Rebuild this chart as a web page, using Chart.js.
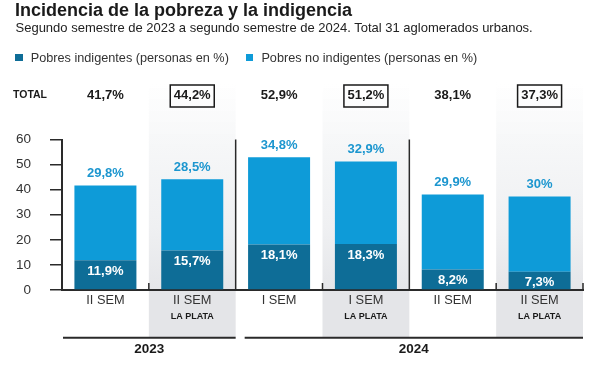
<!DOCTYPE html>
<html><head><meta charset="utf-8">
<script src="https://cdn.jsdelivr.net/npm/chart.js@4/dist/chart.umd.min.js"></script>
<style>
html,body{margin:0;padding:0;background:#fff;}
#wrap{position:relative;width:600px;height:365px;overflow:hidden;font-family:'Liberation Sans',Arial,sans-serif;}
canvas{position:absolute;left:0;top:0;}
.t{position:absolute;white-space:nowrap;line-height:1;color:#1a1a1a;}
#title{left:15px;top:0.5px;font-size:18px;font-weight:bold;}
#sub{left:15.5px;top:20.7px;font-size:13px;color:#222;}
.lg{position:absolute;top:51.5px;font-size:12.7px;color:#333;line-height:1;white-space:nowrap;}
.sw{position:absolute;width:7.5px;height:7.5px;top:53.5px;}
</style></head>
<body><div id="wrap">
<canvas id="c" width="600" height="365"></canvas>
<div class="t" id="title">Incidencia de la pobreza y la indigencia</div>
<div class="t" id="sub">Segundo semestre de 2023 a segundo semestre de 2024. Total 31 aglomerados urbanos.</div>
<div id="legend"></div>
</div>
<script>
// ---- data ----
const categories = ['II SEM', 'II SEM', 'I SEM', 'I SEM', 'II SEM', 'II SEM'];
const subLabels = ['', 'LA PLATA', '', 'LA PLATA', '', 'LA PLATA'];
const indigentes = [11.9, 15.7, 18.1, 18.3, 8.2, 7.3];
const noIndigentes = [29.8, 28.5, 34.8, 32.9, 29.9, 30];
const totals = [41.7, 44.2, 52.9, 51.2, 38.1, 37.3];
const years = ['2023', '2024'];
const yearSpans = [[0, 1], [2, 5]];
const yTicks = [0, 10, 20, 30, 40, 50, 60];
const seriesNames = ['Pobres indigentes (personas en %)', 'Pobres no indigentes (personas en %)'];
const totalLabel = 'TOTAL';

// ---- styles ----
const FAM = "'Liberation Sans', Arial, sans-serif";
const DARK = '#0e6d97';
const LIGHT = '#0e9bd8';
const INK = '#2a2a2a';
const fmt = v => String(v).replace('.', ',') + '%';

const decor = {
  id: 'decor',
  beforeDraw(chart) {
    const {ctx, chartArea: ca, scales: {x}} = chart;
    const half = (x.getPixelForValue(1) - x.getPixelForValue(0)) / 2;
    ctx.save();
    subLabels.forEach((s, i) => {
      if (!s) return;
      const x0 = x.getPixelForValue(i) - half;
      const g = ctx.createLinearGradient(0, 82, 0, ca.bottom);
      g.addColorStop(0, 'rgba(246,247,248,0)');
      g.addColorStop(0.3, 'rgba(246,247,248,1)');
      g.addColorStop(0.7, 'rgba(239,240,242,1)');
      g.addColorStop(1, 'rgba(229,230,233,1)');
      ctx.fillStyle = g;
      ctx.fillRect(x0, 82, half * 2, ca.bottom - 82);
      ctx.fillStyle = '#e4e5e8';
      ctx.fillRect(x0, ca.bottom, half * 2, 337 - ca.bottom);
    });
    ctx.restore();
  },
  afterDraw(chart) {
    const {ctx, chartArea: ca, scales: {x}} = chart;
    const half = (x.getPixelForValue(1) - x.getPixelForValue(0)) / 2;
    const m0 = chart.getDatasetMeta(0), m1 = chart.getDatasetMeta(1);
    ctx.save();
    // separators
    ctx.strokeStyle = INK;
    ctx.lineWidth = 1.5;
    for (let i = 1; i <= categories.length; i++) {
      const bx = x.getPixelForValue(i) - half;
      const full = i < categories.length && categories[i] !== categories[i - 1];
      ctx.beginPath();
      ctx.moveTo(bx, full ? ca.top : ca.bottom - 7);
      ctx.lineTo(bx, ca.bottom);
      ctx.stroke();
    }
    // TOTAL row
    ctx.fillStyle = '#1a1a1a';
    ctx.textBaseline = 'middle';
    ctx.textAlign = 'left';
    ctx.font = 'bold 10.5px ' + FAM;
    ctx.fillText(totalLabel, 13, 95.5);
    ctx.textAlign = 'center';
    ctx.font = 'bold 13px ' + FAM;
    totals.forEach((t, i) => {
      const cx = m1.data[i].x;
      ctx.fillStyle = '#1a1a1a';
      ctx.fillText(fmt(t), cx, 95.5);
      if (subLabels[i]) {
        ctx.strokeStyle = '#1a1a1a';
        ctx.lineWidth = 1.5;
        ctx.strokeRect(cx - 22, 85, 44, 22);
      }
    });
    // value labels
    noIndigentes.forEach((v, i) => {
      const el = m1.data[i];
      ctx.fillStyle = '#1c96cf';
      ctx.fillText(fmt(v), el.x, el.y - 12);
    });
    indigentes.forEach((v, i) => {
      const el = m0.data[i];
      ctx.fillStyle = '#ffffff';
      ctx.fillText(fmt(v), el.x, el.y + 11);
    });
    // sub labels
    ctx.font = 'bold 9px ' + FAM;
    ctx.fillStyle = '#1a1a1a';
    subLabels.forEach((s, i) => {
      if (s) ctx.fillText(s, x.getPixelForValue(i), 316.5);
    });
    // years
    ctx.font = 'bold 13.5px ' + FAM;
    yearSpans.forEach(([a, b], k) => {
      const x0 = x.getPixelForValue(a) - half + (a === 0 ? 1 : 9);
      const x1 = x.getPixelForValue(b) + half;
      ctx.strokeStyle = INK;
      ctx.lineWidth = 2;
      ctx.beginPath();
      ctx.moveTo(x0, 337.7);
      ctx.lineTo(x1, 337.7);
      ctx.stroke();
      ctx.fillStyle = '#1a1a1a';
      ctx.fillText(years[k], (x0 + x1) / 2, 349.5);
    });
    ctx.restore();
  }
};

const chart = new Chart(document.getElementById('c'), {
  type: 'bar',
  data: {
    labels: categories,
    datasets: [
      {label: seriesNames[0], data: indigentes, backgroundColor: DARK, stack: 's', barPercentage: 0.714, categoryPercentage: 1},
      {label: seriesNames[1], data: noIndigentes, backgroundColor: LIGHT, stack: 's', barPercentage: 0.714, categoryPercentage: 1}
    ]
  },
  options: {
    responsive: false,
    animation: false,
    devicePixelRatio: 1,
    layout: {padding: {top: 139.5, right: 17, bottom: 0, left: 0}},
    plugins: {legend: {display: false}, title: {display: false}, tooltip: {enabled: false}},
    scales: {
      x: {
        stacked: true,
        grid: {display: false, drawTicks: false},
        border: {display: true, color: INK, width: 2},
        ticks: {font: {family: FAM, size: 12.8}, color: '#333', padding: 3, maxRotation: 0, autoSkip: false},
        afterFit(s) { s.height = 75; }
      },
      y: {
        stacked: true,
        min: 0, max: 60,
        afterBuildTicks(s) { s.ticks = yTicks.map(v => ({value: v})); },
        grid: {drawOnChartArea: false, drawTicks: true, tickLength: 12, color: INK, lineWidth: 1.5},
        border: {display: true, color: INK, width: 2},
        ticks: {font: {family: FAM, size: 13.5}, color: '#333', padding: 19},
        afterFit(s) { s.width = 62; }
      }
    }
  },
  plugins: [decor]
});

// HTML legend built from the chart's datasets
const lg = document.getElementById('legend');
const legendX = [15, 245.7];
chart.data.datasets.forEach((ds, i) => {
  const sw = document.createElement('div');
  sw.className = 'sw';
  sw.style.left = legendX[i] + 'px';
  sw.style.background = ds.backgroundColor;
  lg.appendChild(sw);
  const tx = document.createElement('div');
  tx.className = 'lg';
  tx.style.left = (legendX[i] + 15.7) + 'px';
  tx.textContent = ds.label;
  lg.appendChild(tx);
});
</script>
</body></html>
